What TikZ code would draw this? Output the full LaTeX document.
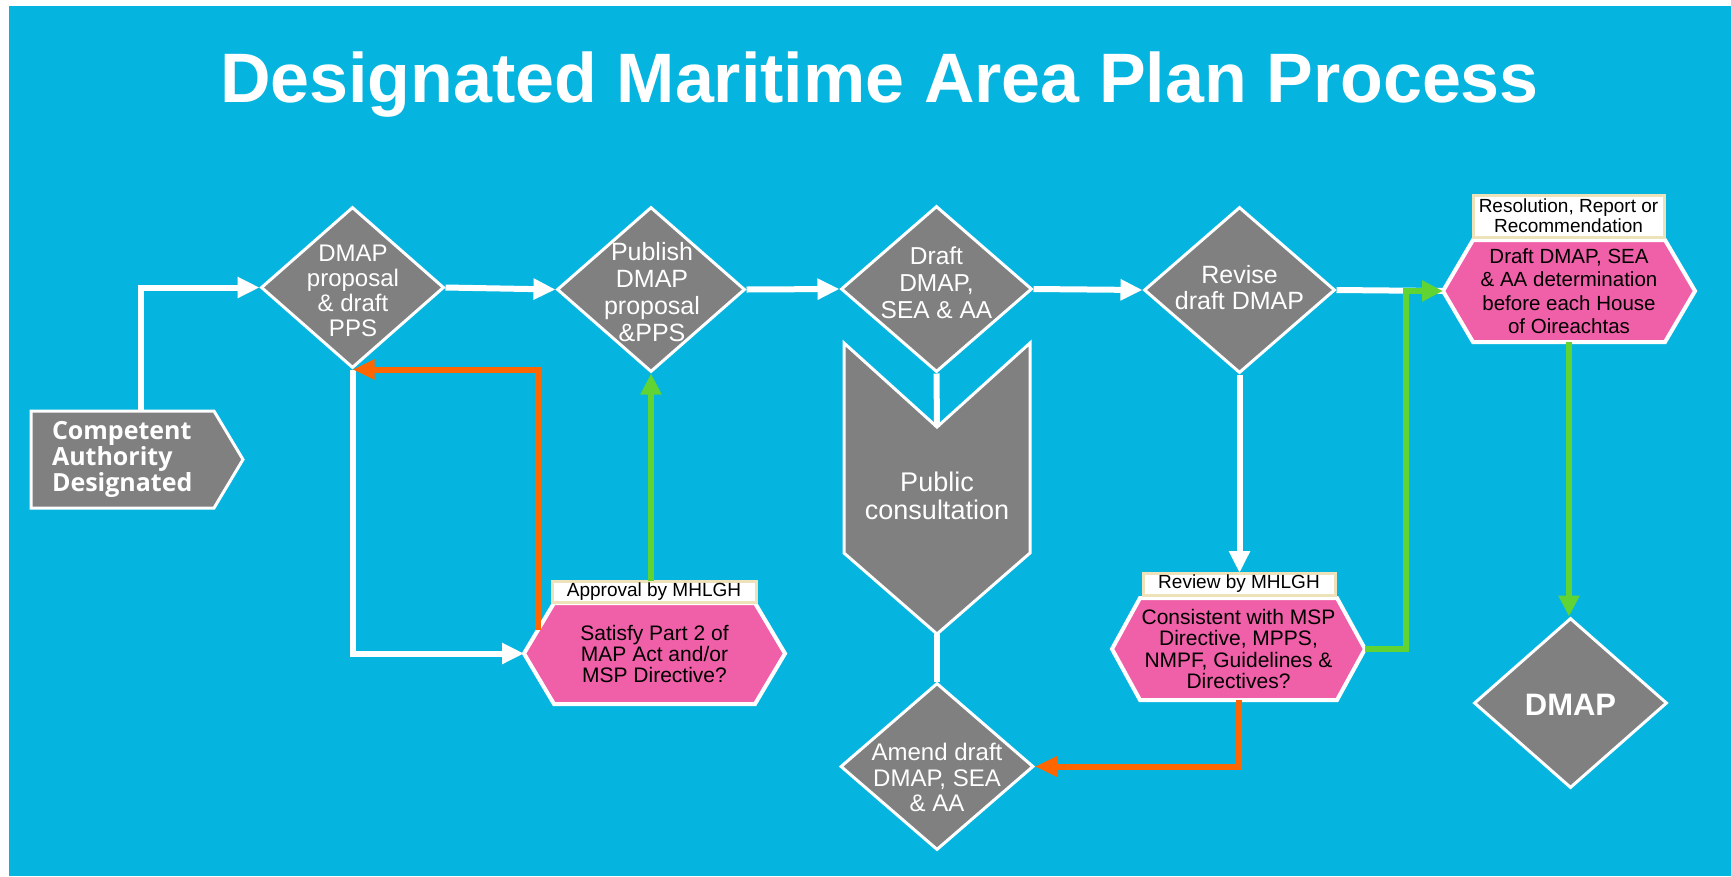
\documentclass[tikz,border=0pt]{standalone}
\usepackage{fontspec}
\setmainfont{Liberation Sans}
\newfontfamily\osans{Open Sans}
\usetikzlibrary{shapes.geometric,arrows.meta,calc}
\pgfdeclarelayer{shapes}
\pgfsetlayers{shapes,main}
\definecolor{bgblue}{RGB}{5,181,224}
\definecolor{boxgray}{RGB}{128,128,128}
\definecolor{hexpink}{RGB}{240,96,168}
\definecolor{arrgreen}{RGB}{96,212,50}
\definecolor{arrorange}{RGB}{255,102,0}
\definecolor{labbeige}{RGB}{238,226,186}
\tikzset{
  dia/.style={diamond, draw=white, fill=boxgray, line width=3pt, inner sep=0pt, aspect=1},
  dtext/.style={text=white, align=center, inner sep=0pt},
  hexnode/.style={rectangle, inner sep=0pt, outer sep=0pt, align=center, text=black},
  hexline/.style={draw=white, fill=hexpink, line width=4pt, line join=miter},
  polyline/.style={draw=white, fill=boxgray, line width=3pt, line join=miter},
  labbox/.style={rectangle, draw=labbeige, fill=white, line width=3pt, inner sep=0pt, outer sep=0pt, align=center, text=black, font=\fontsize{19}{20}\selectfont},
  wline/.style={draw=white, line width=6pt},
  warrow/.style={wline, -{Triangle[length=22pt,width=20pt]}},
  garrow/.style={draw=arrgreen, line width=6pt, -{Triangle[length=21pt,width=20pt]}},
  oarrow/.style={draw=arrorange, line width=6pt, -{Triangle[length=22pt,width=19pt]}},
}
\newcommand\drawhexof[2]{%
  \begin{pgfonlayer}{shapes}
  \draw[hexline] (#1.west) -- ($(#1.north west)+(#2,0)$) -- ($(#1.north east)+(-#2,0)$) -- (#1.east) -- ($(#1.south east)+(-#2,0)$) -- ($(#1.south west)+(#2,0)$) -- cycle;
  \end{pgfonlayer}}
\begin{document}
\begin{tikzpicture}[x=1pt,y=-1pt]
\begin{pgfonlayer}{shapes}
\fill[white] (0,0) rectangle (1731,876);
\fill[bgblue] (9,6) rectangle (1731,876);
\end{pgfonlayer}
\useasboundingbox (0,0) rectangle (1731,876);

% title
\node[anchor=base, text=white, inner sep=0pt, font=\bfseries\fontsize{70}{80}\selectfont] (title) at (879.5,102) {Designated Maritime Area Plan Process};

% competent authority
\node[rectangle, inner sep=0pt, inner xsep=21pt, outer sep=0pt, minimum width=212pt, minimum height=97pt, text width=170pt, align=left, text=white, font=\osans\bfseries\fontsize{25}{23}\selectfont] (ca) at (137,459.5) {Competent\\Authority\\Designated};
\begin{pgfonlayer}{shapes}
\draw[polyline] (ca.north west) -- ($(ca.north east)+(-29,0)$) -- (ca.east) -- ($(ca.south east)+(-29,0)$) -- (ca.south west) -- cycle;
\end{pgfonlayer}

% diamonds
\node[dia, minimum width=183pt, minimum height=161pt] (d1) at (352.5,287.5) {};
\node[dtext, font=\fontsize{24}{25}\selectfont] (d1t) at (353,290.5) {DMAP\\proposal\\\& draft\\PPS};
\node[dia, minimum width=188pt, minimum height=165pt] (d2) at (651,289.5) {};
\node[dtext, font=\fontsize{25}{27}\selectfont] (d2t) at (652,292.5) {Publish\\DMAP\\proposal\\\&PPS};
\node[dia, minimum width=191pt, minimum height=166pt] (d3) at (936.5,289) {};
\node[dtext, font=\fontsize{24.5}{27}\selectfont] (d3t) at (936.5,282.5) {Draft\\DMAP,\\SEA \& AA};
\node[dia, minimum width=191pt, minimum height=166pt] (d4) at (1239.5,290) {};
\node[dtext, font=\fontsize{25}{26}\selectfont] (d4t) at (1239.5,288) {Revise\\draft DMAP};
\node[dia, minimum width=193pt, minimum height=167pt] (am) at (937,766.5) {};
\node[dtext, font=\fontsize{24}{25.5}\selectfont] (amt) at (937,777.5) {Amend draft\\DMAP, SEA\\\& AA};
\node[dia, minimum width=193pt, minimum height=170pt] (dm) at (1570.5,703) {};
\node[dtext, font=\bfseries\fontsize{31}{33}\selectfont] (dmt) at (1570.5,705) {DMAP};

% public consultation chevron
\node[rectangle, inner sep=0pt, outer sep=0pt, minimum width=186pt, minimum height=291pt] (pc) at (937,488.5) {};
\begin{pgfonlayer}{shapes}
\draw[polyline] (pc.north west) -- ($(pc.north)+(0,84)$) -- (pc.north east) -- ($(pc.south east)+(0,-81)$) -- (pc.south) -- ($(pc.south west)+(0,-81)$) -- cycle;
\end{pgfonlayer}
\node[dtext, font=\fontsize{27}{28}\selectfont] (pct) at (937,496) {Public\\consultation};

% hexagons
\node[hexnode, minimum width=261pt, minimum height=101pt, font=\fontsize{21}{21}\selectfont] (sat) at (654.5,653.5) {Satisfy Part 2 of\\MAP Act and/or\\MSP Directive?};
\drawhexof{sat}{30}
\node[hexnode, minimum width=253pt, minimum height=102pt, font=\fontsize{21}{21.5}\selectfont] (revh) at (1238.5,649) {Consistent with MSP\\Directive, MPPS,\\NMPF, Guidelines \&\\Directives?};
\drawhexof{revh}{28}
\node[hexnode, minimum width=252pt, minimum height=102pt, font=\fontsize{20.5}{23.5}\selectfont] (res) at (1569,291) {Draft DMAP, SEA\\\& AA determination\\before each House\\of Oireachtas};
\drawhexof{res}{30}

% labels
\node[labbox, minimum width=204pt, minimum height=21pt] (lab1) at (654,591.5) {Approval by MHLGH};
\node[labbox, minimum width=192pt, minimum height=22pt] (lab2) at (1239,584) {Review by MHLGH};
\node[labbox, minimum width=191pt, minimum height=42pt] (lab3) at (1568.5,216) {Resolution, Report or\\Recommendation};

% connectors
\coordinate (o1) at (538,630);
\draw[warrow] ([xshift=4pt]ca.north) |- (d1.west);
\draw[warrow] (d1.east) -- (d2.west);
\draw[warrow] (d2.east) -- (d3.west);
\draw[warrow] (d3.east) -- (d4.west);
\draw[wline] (d4.east) -- (res.west);
\draw[warrow] (d1.south) |- (sat.west);
\draw[oarrow] (o1) |- (d1.south);
\draw[garrow] (lab1.north -| d2.south) -- (d2.south);
\draw[wline] (d3.south) -- ($(pc.north)+(0,84)$);
\draw[wline] (pc.south) -- (am.north);
\draw[warrow] (d4.south) -- (d4.south |- lab2.north);
\draw[oarrow] (revh.south) |- (am.east);
\draw[garrow] (revh.east) -- ++(41,0) |- (res.west);
\draw[garrow] (res.south) -- (res.south |- dm.north);
\end{tikzpicture}
\end{document}
